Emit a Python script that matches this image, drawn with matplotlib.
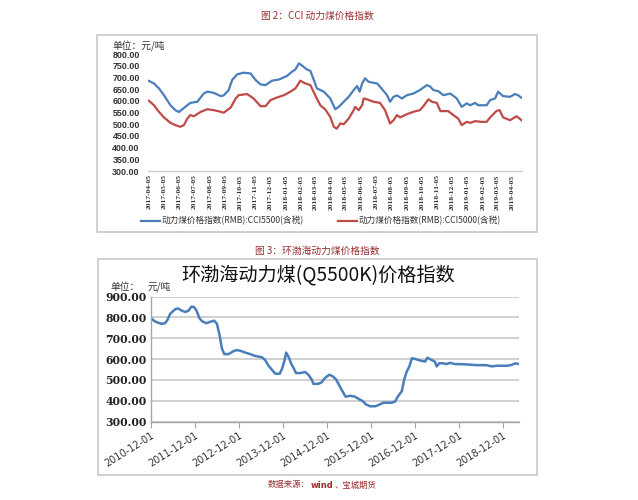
import matplotlib
matplotlib.use("Agg")
import matplotlib.pyplot as plt
from matplotlib.patches import Rectangle
import numpy as np

plt.rcParams['font.family'] = ['Noto Sans CJK SC', 'DejaVu Sans']

# ---------------- data: figure 2 (CCI) ----------------
cci5500_dates = ["2017-04-05","2017-04-15","2017-04-25","2017-05-05","2017-05-18","2017-05-28","2017-06-04",
    "2017-06-21","2017-06-27","2017-07-11","2017-07-24","2017-07-31","2017-08-13","2017-08-27","2017-09-02",
    "2017-09-12","2017-09-19","2017-09-29","2017-10-12","2017-10-26","2017-11-05","2017-11-15","2017-11-25",
    "2017-12-08","2017-12-22","2018-01-07","2018-01-17","2018-01-24","2018-01-31","2018-02-03","2018-02-16",
    "2018-02-23","2018-03-02","2018-03-08","2018-03-22","2018-04-04","2018-04-14","2018-04-21","2018-05-01",
    "2018-05-11","2018-05-21","2018-05-28","2018-06-02","2018-06-07","2018-06-13","2018-06-20","2018-07-07",
    "2018-07-13","2018-07-27","2018-08-02","2018-08-09","2018-08-16","2018-08-26","2018-09-05","2018-09-18",
    "2018-10-01","2018-10-15","2018-10-21","2018-10-28","2018-11-07","2018-11-17","2018-12-01","2018-12-14",
    "2018-12-24","2019-01-03","2019-01-10","2019-01-20","2019-01-26","2019-02-12","2019-02-19","2019-03-01",
    "2019-03-07","2019-03-17","2019-03-31","2019-04-10","2019-04-16","2019-04-23"]
cci5500_vals = [685, 674, 653, 624, 581, 560, 552,
    581, 591, 596, 631, 639, 634, 620, 623,
    646, 689, 713, 720, 717, 689, 670, 667,
    686, 691, 706, 724, 734, 760, 756, 734,
    728, 689, 653, 639, 610, 564, 574, 596,
    617, 646, 663, 639, 674, 696, 681, 674,
    660, 624, 596, 617, 623, 610, 624, 631,
    646, 667, 662, 646, 641, 624, 631, 610,
    574, 589, 581, 591, 581, 581, 603, 610,
    639, 620, 617, 629, 624, 613]

cci5000_dates = ["2017-04-05","2017-04-15","2017-04-25","2017-05-05","2017-05-18","2017-05-28","2017-06-07",
    "2017-06-14","2017-06-21","2017-06-27","2017-07-04","2017-07-18","2017-07-31","2017-08-13","2017-08-27",
    "2017-09-02","2017-09-16","2017-09-26","2017-10-02","2017-10-19","2017-11-01","2017-11-15","2017-11-25",
    "2017-12-05","2017-12-18","2018-01-01","2018-01-14","2018-01-24","2018-02-03","2018-02-10","2018-02-23",
    "2018-03-08","2018-03-15","2018-03-25","2018-04-04","2018-04-11","2018-04-17","2018-04-24","2018-05-01",
    "2018-05-11","2018-05-21","2018-05-24","2018-05-31","2018-06-07","2018-06-10","2018-06-17","2018-06-30",
    "2018-07-13","2018-07-23","2018-08-02","2018-08-09","2018-08-16","2018-08-22","2018-09-05","2018-09-18",
    "2018-10-01","2018-10-08","2018-10-18","2018-10-25","2018-11-04","2018-11-11","2018-11-27","2018-12-07",
    "2018-12-17","2018-12-24","2019-01-03","2019-01-10","2019-01-20","2019-02-02","2019-02-12","2019-02-19",
    "2019-03-04","2019-03-10","2019-03-17","2019-03-31","2019-04-13","2019-04-23"]
cci5000_vals = [600, 581, 553, 529, 506, 496, 489,
    496, 524, 539, 534, 553, 564, 560, 553,
    549, 571, 610, 624, 629, 610, 577, 577,
    603, 614, 624, 639, 653, 686, 677, 667,
    610, 581, 563, 531, 489, 481, 503, 500,
    524, 560, 574, 560, 581, 610, 606, 596,
    591, 560, 503, 517, 539, 529, 543, 553,
    560, 577, 606, 596, 591, 556, 556, 539,
    524, 496, 510, 506, 513, 510, 510, 529,
    557, 560, 529, 517, 534, 517]

cci_ticks = ["2017-04-05","2017-05-05","2017-06-05","2017-07-05","2017-08-05","2017-09-05","2017-10-05",
    "2017-11-05","2017-12-05","2018-01-05","2018-02-05","2018-03-05","2018-04-05","2018-05-05","2018-06-05",
    "2018-07-05","2018-08-05","2018-09-05","2018-10-05","2018-11-05","2018-12-05","2019-01-05","2019-02-05",
    "2019-03-05","2019-04-05"]
cci_yticks = [300, 350, 400, 450, 500, 550, 600, 650, 700, 750, 800]
cci_labels = ["动力煤价格指数(RMB):CCI5500(含税)", "动力煤价格指数(RMB):CCI5000(含税)"]

# ---------------- data: figure 3 (Bohai-Rim) ----------------
bohai_dates = ["2010-12-01","2010-12-23","2011-01-20","2011-03-01","2011-03-28","2011-04-17","2011-05-09",
    "2011-06-20","2011-07-12","2011-08-15","2011-09-12","2011-10-09","2011-11-01","2011-11-20","2011-12-12",
    "2012-01-06","2012-01-28","2012-03-04","2012-04-12","2012-05-09","2012-06-01","2012-06-23","2012-07-12",
    "2012-08-01","2012-09-06","2012-10-23","2012-11-15","2012-12-12","2013-01-23","2013-03-04","2013-04-15",
    "2013-06-09","2013-07-06","2013-08-04","2013-09-01","2013-09-28","2013-11-04","2013-11-23","2013-12-12",
    "2013-12-28","2014-01-17","2014-02-09","2014-02-28","2014-03-20","2014-04-23","2014-06-04","2014-07-01",
    "2014-07-28","2014-08-12","2014-09-23","2014-10-20","2014-11-04","2014-12-01","2014-12-23","2015-01-20",
    "2015-02-17","2015-03-15","2015-04-17","2015-05-06","2015-06-12","2015-07-23","2015-08-20","2015-09-25",
    "2015-10-22","2015-11-25","2016-01-07","2016-02-04","2016-03-15","2016-05-22","2016-06-19","2016-07-16",
    "2016-08-15","2016-09-04","2016-09-25","2016-10-17","2016-11-07","2016-12-04","2017-01-15","2017-02-25",
    "2017-03-15","2017-04-19","2017-05-17","2017-06-01","2017-06-22","2017-07-25","2017-08-22","2017-09-19",
    "2017-11-01","2017-12-12","2018-02-19","2018-04-28","2018-07-19","2018-09-01","2018-10-12","2019-01-04",
    "2019-02-14","2019-03-12","2019-04-16"]
bohai_vals = [798, 785, 776, 769, 772, 788, 817,
    839, 843, 832, 826, 832, 851, 851, 835,
    798, 782, 772, 780, 784, 769, 714, 651,
    624, 624, 640, 643, 640, 631, 624, 615,
    609, 596, 568, 549, 530, 530, 552, 588,
    631, 611, 577, 557, 533, 533, 538, 525,
    502, 481, 482, 489, 502, 517, 525, 517,
    502, 473, 439, 420, 424, 420, 410, 399,
    383, 374, 374, 380, 391, 391, 396, 423,
    446, 502, 540, 565, 604, 601, 593, 588,
    607, 596, 588, 565, 580, 580, 576, 582,
    576, 576, 574, 571, 571, 565, 568, 568,
    572, 579, 577]
bohai_ticks = ["2010-12-01","2011-12-01","2012-12-01","2013-12-01","2014-12-01","2015-12-01",
    "2016-12-01","2017-12-01","2018-12-01"]
bohai_yticks = [300, 400, 500, 600, 700, 800, 900]

footer_parts = ["数据来源：", "wind", "、宝城期货"]

# ---------------- figure ----------------
W, H = 638, 500
fig = plt.figure(figsize=(W/100, H/100), dpi=100)

def px_rect(x0, y0, x1, y1):
    return [x0/W, 1 - y1/H, (x1-x0)/W, (y1-y0)/H]

title_color = '#9B2D30'
blue = '#4A7EBB'
red = '#BE4B48'

# section titles
fig.text(317/W, 1-16/H, "图 2：CCI 动力煤价格指数", ha='center', va='center', fontsize=7, color=title_color)
fig.text(317/W, 1-251/H, "图 3：环渤海动力煤价格指数", ha='center', va='center', fontsize=7, color=title_color)

# frames
for (x0, y0, x1, y1) in [(97, 35, 537, 232), (98, 259, 537, 475)]:
    fig.patches.append(Rectangle((x0/W, 1-y1/H), (x1-x0)/W, (y1-y0)/H, transform=fig.transFigure,
                                 fill=False, edgecolor='#C8C8C8', linewidth=1.2))

# ---- top chart ----
ax1 = fig.add_axes(px_rect(148, 54, 522, 171))
d55 = np.array(cci5500_dates, dtype='datetime64[D]')
d50 = np.array(cci5000_dates, dtype='datetime64[D]')
l1, = ax1.plot(d55, cci5500_vals, color=blue, lw=1.6)
l2, = ax1.plot(d50, cci5000_vals, color=red, lw=1.6)
ax1.set_ylim(300, 800)
ax1.set_xlim(np.datetime64('2017-04-03'), np.datetime64('2019-04-24'))
ax1.set_yticks(cci_yticks)
ax1.set_yticklabels([f"{v:.2f}" for v in cci_yticks], fontsize=6.4, fontweight='bold', color='#333333',
                    family=['Liberation Sans'])
ax1.set_xticks(np.array(cci_ticks, dtype='datetime64[D]'))
ax1.set_xticklabels(cci_ticks, rotation=90, fontsize=5.4, color='#333333', fontweight='bold',
                    family=['Liberation Serif'])
ax1.tick_params(axis='x', length=0, pad=2.5)
ax1.tick_params(axis='y', length=0, pad=6)
for s in ['top', 'right', 'left']:
    ax1.spines[s].set_visible(False)
ax1.spines['bottom'].set_color('#D0D0D0')
ax1.spines['bottom'].set_linewidth(1.0)
ax1.patch.set_alpha(0)
fig.text(112/W, 1-46/H, "单位：元/吨", ha='left', va='center', fontsize=7, color='#333333')
fig.legend([l1, l2], cci_labels, loc='center', bbox_to_anchor=(321/W, 1-221/H), ncol=2, frameon=False,
           fontsize=6.2, handlelength=2.2, handletextpad=0.2, columnspacing=4.0, labelcolor='#333333',
           borderpad=0.1)

# ---- bottom chart ----
ax2 = fig.add_axes(px_rect(151, 296.5, 519, 421.7))
db = np.array(bohai_dates, dtype='datetime64[D]')
ax2.plot(db, bohai_vals, color=blue, lw=1.8)
ax2.set_ylim(300, 900)
ax2.set_xlim(np.datetime64('2010-12-01'), np.datetime64('2019-04-16'))
ax2.set_yticks(bohai_yticks)
ax2.set_yticklabels([f"{v:.2f}" for v in bohai_yticks], fontsize=7.8, fontweight='bold', color='#222222',
                    family=['DejaVu Serif'])
ax2.set_xticks(np.array(bohai_ticks, dtype='datetime64[D]'))
ax2.set_xticklabels(bohai_ticks, rotation=32, ha='right', rotation_mode='anchor', fontsize=7,
                    color='#333333', family=['DejaVu Sans'])
ax2.grid(axis='y', color='#C8C8C8', lw=1.2)
ax2.set_axisbelow(True)
for s in ['top', 'right']:
    ax2.spines[s].set_visible(False)
for s in ['left', 'bottom']:
    ax2.spines[s].set_color('#A6A6A6')
    ax2.spines[s].set_linewidth(1.0)
ax2.tick_params(axis='x', length=4, color='#A6A6A6', pad=2)
ax2.tick_params(axis='y', length=0, pad=3)
fig.text(318/W, 1-275/H, "环渤海动力煤(Q5500K)价格指数", ha='center', va='center', fontsize=13.8, color='#111111')
fig.text(110/W, 1-287/H, "单位：", ha='left', va='center', fontsize=7, color='#333333')
fig.text(148/W, 1-287/H, "元/吨", ha='left', va='center', fontsize=7, color='#333333')

# footer: place the three parts one after another
renderer = fig.canvas.get_renderer()
x = 268.0
for i, part in enumerate(footer_parts):
    kw = dict(fontweight='bold', family=['DejaVu Sans']) if part == "wind" else {}
    t = fig.text(x/W, 1-485/H, part, ha='left', va='center', fontsize=6, color=title_color, **kw)
    bb = t.get_window_extent(renderer=renderer)
    x = bb.x1 + 1

fig.savefig("out.png", dpi=100)
